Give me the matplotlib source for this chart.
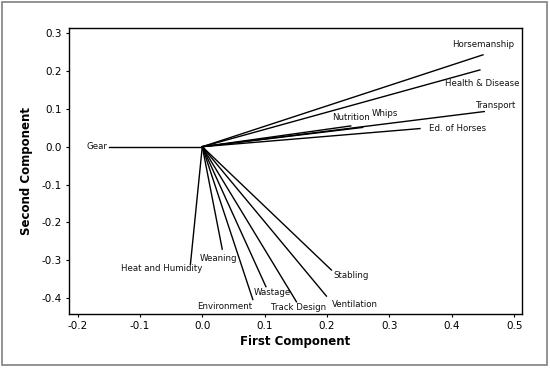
import matplotlib as mpl
mpl.use('agg')
import matplotlib.pyplot as plt
from matplotlib.patches import Rectangle

# loadings
names = ['Gear', 'Horsemanship', 'Health & Disease', 'Transport', 'Ed. of Horses',
         'Nutrition', 'Whips', 'Heat and Humidity', 'Weaning', 'Environment',
         'Wastage', 'Track Design', 'Ventilation', 'Stabling']
first = [-0.149, 0.450, 0.445, 0.452, 0.349, 0.238, 0.257, -0.019, 0.032, 0.081,
         0.102, 0.151, 0.199, 0.207]
second = [0.000, 0.243, 0.203, 0.093, 0.048, 0.055, 0.051, -0.311, -0.271, -0.404,
          -0.370, -0.410, -0.395, -0.326]

x_ticks = [-0.2, -0.1, 0.0, 0.1, 0.2, 0.3, 0.4, 0.5]
y_ticks = [-0.4, -0.3, -0.2, -0.1, 0.0, 0.1, 0.2, 0.3]

# label offsets (pixels) from line end, and horizontal alignment
label_pos = {
    'Gear': (-2, 0, 'right'),
    'Horsemanship': (0, 10, 'center'),
    'Health & Disease': (2, -14, 'center'),
    'Transport': (12, 6, 'center'),
    'Ed. of Horses': (9, 0, 'left'),
    'Nutrition': (0, 8, 'center'),
    'Whips': (22, 14, 'center'),
    'Heat and Humidity': (-29, -4, 'center'),
    'Weaning': (-4, -9, 'center'),
    'Environment': (-28, -7, 'center'),
    'Wastage': (6, -6, 'center'),
    'Track Design': (2, -6, 'center'),
    'Ventilation': (29, -8, 'center'),
    'Stabling': (20, -5, 'center'),
}

fig = plt.figure(figsize=(5.5, 3.68), dpi=100)
ax = fig.add_axes([0.1255, 0.146, 0.823, 0.777])

for n, x, y in zip(names, first, second):
    ax.plot([0, x], [0, y], color='black', lw=1.0)
    dx, dy, ha = label_pos[n]
    ax.annotate(n, (x, y), xytext=(dx, dy), textcoords='offset pixels',
                ha=ha, va='center', fontsize=6.2, color='#111111')

ax.set_xlim(-0.2136, 0.512)
ax.set_ylim(-0.443, 0.313)
ax.set_xticks(x_ticks)
ax.set_yticks(y_ticks)
ax.set_xticklabels(['%.1f' % t for t in x_ticks])
ax.set_yticklabels(['%.1f' % t for t in y_ticks])
ax.tick_params(direction='out', length=2.5, width=0.8, labelsize=7.5, pad=2.5)
for s in ax.spines.values():
    s.set_linewidth(1.0)

ax.set_xlabel('First Component', fontsize=8.5, fontweight='bold', labelpad=3)
ax.set_ylabel('Second Component', fontsize=8.5, fontweight='bold', labelpad=6)

# grey frame round the whole picture
fig.patches.append(Rectangle((0.004, 0.008), 0.99, 0.986, transform=fig.transFigure,
                             fill=False, edgecolor='#808080', lw=1.2))

fig.savefig('out.png', dpi=100)
